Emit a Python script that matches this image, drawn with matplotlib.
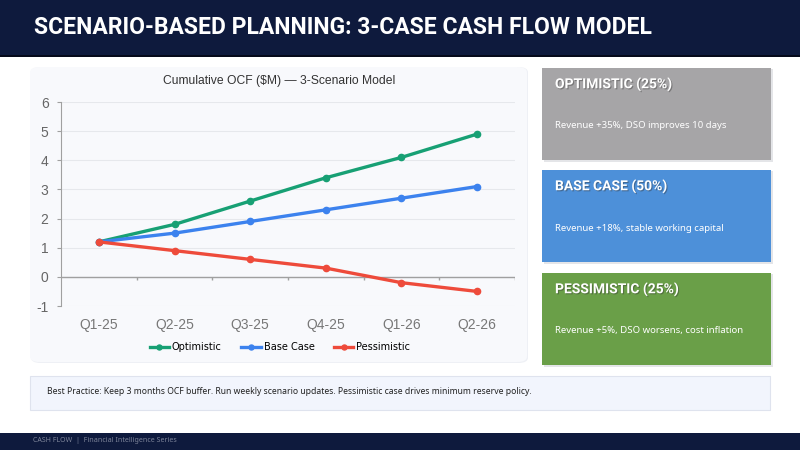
import matplotlib
matplotlib.use("Agg")
import matplotlib.pyplot as plt
from matplotlib.patches import Rectangle, FancyBboxPatch
import matplotlib.patheffects as pe

plt.rcParams["axes.unicode_minus"] = False

W, H = 800, 450

quarters = ["Q1-25", "Q2-25", "Q3-25", "Q4-25", "Q1-26", "Q2-26"]
optimistic = [1.2, 1.8, 2.6, 3.4, 4.1, 4.9]
base_case = [1.2, 1.5, 1.9, 2.3, 2.7, 3.1]
pessimistic = [1.2, 0.9, 0.6, 0.3, -0.2, -0.5]
y_ticks = [-1, 0, 1, 2, 3, 4, 5, 6]

card_titles = ["OPTIMISTIC (25%)", "BASE CASE (50%)", "PESSIMISTIC (25%)"]
card_texts = ["Revenue +35%, DSO improves 10 days",
              "Revenue +18%, stable working capital",
              "Revenue +5%, DSO worsens, cost inflation"]
card_colors = ["#a6a5a7", "#4d90d9", "#6a9f48"]

NAVY = "#0e1a3d"


def fx(x):
    return x / W


def fy(y):
    return 1 - y / H


fig = plt.figure(figsize=(8, 4.5), dpi=100)
fig.patch.set_facecolor("white")

# header band
fig.add_artist(Rectangle((0, fy(55)), 1, 55 / H, transform=fig.transFigure,
                         facecolor=NAVY, edgecolor="none", zorder=0))
fig.add_artist(Rectangle((0, fy(57)), 1, 2 / H, transform=fig.transFigure,
                         facecolor="#05091a", edgecolor="none", zorder=0))
fig.text(fx(34), fy(28), "SCENARIO-BASED PLANNING: 3-CASE CASH FLOW MODEL",
         color="white", fontsize=16.5, fontweight="bold", family="Roboto",
         va="center", ha="left")

# footer band
fig.add_artist(Rectangle((0, 0), 1, 17 / H, transform=fig.transFigure,
                         facecolor=NAVY, edgecolor="none", zorder=0))
fig.text(fx(33), fy(441), "CASH FLOW  |  Financial Intelligence Series",
         color="#7d8499", fontsize=5.1, family="Noto Sans", va="center")

# chart panel
fig.add_artist(FancyBboxPatch((fx(31), fy(363)), fx(497), (363 - 67) / H,
                              boxstyle="round,pad=0,rounding_size=0.012",
                              transform=fig.transFigure, facecolor="#eef0f5",
                              edgecolor="none", zorder=0))
fig.add_artist(FancyBboxPatch((fx(30), fy(362)), fx(497), (362 - 67) / H,
                              boxstyle="round,pad=0,rounding_size=0.012",
                              transform=fig.transFigure, facecolor="#f8f9fc",
                              edgecolor="none", zorder=0))
fig.text(fx(279), fy(81), "Cumulative OCF ($M) \u2014 3-Scenario Model",
         color="#333333", fontsize=8.7, family="Liberation Sans",
         ha="center", va="center")

# chart axes
ax = fig.add_axes([fx(61), fy(306), fx(515 - 61), (306 - 102) / H])
ax.set_facecolor("none")
x = list(range(len(quarters)))
ax.plot(x, optimistic, color="#17a074", lw=2.4, marker="o", ms=4.5,
        label="Optimistic", zorder=3)
ax.plot(x, base_case, color="#3c82ee", lw=2.4, marker="o", ms=4.5,
        label="Base Case", zorder=3)
ax.plot(x, pessimistic, color="#ee4b3b", lw=2.4, marker="o", ms=4.5,
        label="Pessimistic", zorder=4)

ax.set_xlim(-0.5, len(quarters) - 0.5)
ax.set_ylim(-1, 6)
ax.set_yticks(y_ticks)
ax.set_xticks(x)
ax.set_xticklabels(quarters)
for yv in y_ticks:
    ax.axhline(yv, color="#e6e8ec", lw=0.8, zorder=1)
ax.axhline(0, color="#a0a0a0", lw=1.0, zorder=2)
ax.vlines([i + 0.5 for i in x], -0.1, 0, color="#a0a0a0", lw=1.0, zorder=2)
for s in ["top", "right", "bottom"]:
    ax.spines[s].set_visible(False)
ax.spines["left"].set_color("#a0a0a0")
ax.tick_params(axis="y", colors="#a0a0a0", length=3, labelsize=10,
               labelcolor="#666666", pad=6)
ax.tick_params(axis="x", length=0, labelsize=10, labelcolor="#777777", pad=9)
for lab in ax.get_xticklabels() + ax.get_yticklabels():
    lab.set_family("Liberation Sans")
ax.legend(loc="center", bbox_to_anchor=((280 - 61) / 454, -(347 - 306) / 204),
          ncol=3, frameon=False, handlelength=2.0,
          handletextpad=0.3, columnspacing=2.0, markerscale=0.8,
          prop={"family": "DejaVu Sans", "size": 7})

# scenario cards
card_tops = [68, 170, 273]
for top, title, body, col in zip(card_tops, card_titles, card_texts, card_colors):
    fig.add_artist(Rectangle((fx(544), fy(top + 94)), fx(229), 93 / H,
                             transform=fig.transFigure, facecolor="#e4e5e8",
                             edgecolor="none", zorder=0))
    fig.add_artist(Rectangle((fx(542), fy(top + 92)), fx(229), 92 / H,
                             transform=fig.transFigure, facecolor=col,
                             edgecolor="none", zorder=1))
    fig.text(fx(555), fy(top + 16), title, color="white", fontsize=10,
             fontweight="bold", family="Roboto", va="center", ha="left",
             path_effects=[pe.withSimplePatchShadow(offset=(0.8, -0.8),
                                                    shadow_rgbFace="#333333",
                                                    alpha=0.4)])
    fig.text(fx(555), fy(top + 58), body, color="white", fontsize=6.9,
             family="Noto Sans", va="center", ha="left")

# best practice note
fig.add_artist(Rectangle((fx(31), fy(411)), fx(740), 35 / H,
                         transform=fig.transFigure, facecolor="#e6e8ee",
                         edgecolor="none", zorder=0))
fig.add_artist(Rectangle((fx(30), fy(410)), fx(740), 34 / H,
                         transform=fig.transFigure, facecolor="#f2f5fd",
                         edgecolor="#dfe3ee", lw=0.8, zorder=1))
fig.text(fx(47), fy(392),
         "Best Practice: Keep 3 months OCF buffer. Run weekly scenario updates. "
         "Pessimistic case drives minimum reserve policy.",
         color="#222222", fontsize=6.2, family="Noto Sans", va="center")

fig.savefig("out.png", dpi=100)
